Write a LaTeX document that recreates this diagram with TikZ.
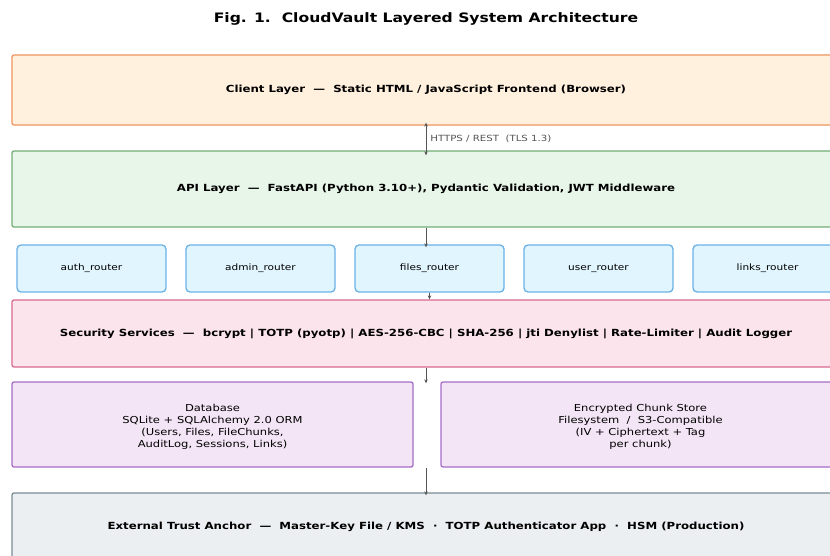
\documentclass[tikz,border=0pt]{standalone}
\usepackage{fontspec}
\setmainfont{DejaVu Sans}[FakeStretch=1.2]
\usetikzlibrary{arrows.meta}
\definecolor{clientfill}{HTML}{FFF1DE}
\definecolor{clientline}{HTML}{EE9560}
\definecolor{apifill}{HTML}{E8F5E9}
\definecolor{apiline}{HTML}{72AE76}
\definecolor{routerfill}{HTML}{E1F5FE}
\definecolor{routerline}{HTML}{6AB2E6}
\definecolor{secfill}{HTML}{FCE4EC}
\definecolor{secline}{HTML}{D86A92}
\definecolor{storefill}{HTML}{F3E5F5}
\definecolor{storeline}{HTML}{A66CC6}
\definecolor{extfill}{HTML}{ECEFF1}
\definecolor{extline}{HTML}{7A8C96}
\definecolor{arrowgray}{HTML}{555555}
\tikzset{
  layer/.style={draw, line width=1.3pt, rounded corners=2pt, minimum width=828pt,
    font=\fontsize{9.8}{11}\selectfont\bfseries, align=center, inner sep=0pt},
  router/.style={draw=routerline, fill=routerfill, line width=1.3pt, rounded corners=4pt,
    minimum width=149pt, minimum height=47pt, font=\fontsize{8.8}{11}\selectfont},
  store/.style={draw=storeline, fill=storefill, line width=1.3pt, rounded corners=2pt,
    minimum height=85pt, font=\fontsize{9.6}{12}\selectfont, align=center},
  flow/.style={draw=arrowgray, line width=0.7pt, -{Stealth[length=4pt,width=3.5pt]}}
}
\def\layernode{\node[layer]}

\begin{document}
\begin{tikzpicture}[x=1pt,y=-1pt]
\clip (0,0) rectangle (830,556);
\fill[white] (0,0) rectangle (830,556);
\node (title) at (426,19) {\fontsize{13}{16}\selectfont\bfseries Fig. 1.\ \ CloudVault Layered System Architecture};
% layers
\layernode[draw=clientline, fill=clientfill, minimum height=70pt] (client) at (426,90)
  {Client Layer\ \ —\ \ Static HTML / JavaScript Frontend (Browser)};
\layernode[draw=apiline, fill=apifill, minimum height=76pt] (api) at (426,189)
  {API Layer\ \ —\ \ FastAPI (Python 3.10+), Pydantic Validation, JWT Middleware};
\foreach \nm [count=\i from 0] in {auth,admin,files,user,links}
  \node[router] (\nm) at (91.5+169*\i,268.5) {\nm\_router};
\layernode[draw=secline, fill=secfill, minimum height=67pt] (sec) at (426,333.5)
  {Security Services\ \ —\ \ bcrypt | TOTP (pyotp) | AES-256-CBC | SHA-256 | jti Denylist | Rate-Limiter | Audit Logger};
\node[store, minimum width=401pt] (db) at (212.5,424.5)
  {\rule{0pt}{12pt}Database\\SQLite + SQLAlchemy 2.0 ORM\\(Users, Files, FileChunks,\\AuditLog, Sessions, Links)};
\node[store, minimum width=399pt] (chunks) at (640.5,424.5)
  {\rule{0pt}{12pt}Encrypted Chunk Store\\Filesystem\ \ /\ \ S3-Compatible\\(IV + Ciphertext + Tag\\per chunk)};
\layernode[draw=extline, fill=extfill, minimum height=68pt] (ext) at (426,527)
  {External Trust Anchor\ \ —\ \ Master-Key File / KMS\ \ ·\ \ TOTP Authenticator App\ \ ·\ \ HSM (Production)};
% connectors
\coordinate (gap_top) at (sec.south |- db.north);
\coordinate (gap_bot) at (sec.south |- db.south);
\draw[flow, {Stealth[length=4pt,width=3.5pt]}-{Stealth[length=4pt,width=3.5pt]}]
  ([yshift=3pt]client.south) -- node[right, inner sep=4pt, text=arrowgray, font=\fontsize{8.5}{9}\selectfont]
  {HTTPS / REST\ \ (TLS 1.3)} ([yshift=-5pt]api.north);
\draw[flow] (api.south) -- ([yshift=-3pt]api.south |- files.north);
\draw[flow] (files.south) -- (files.south |- sec.north);
\draw[flow] (sec.south) -- ([yshift=-2pt]gap_top);
\draw[flow] (gap_bot) -- ([yshift=-3pt]ext.north);
\end{tikzpicture}
\end{document}
